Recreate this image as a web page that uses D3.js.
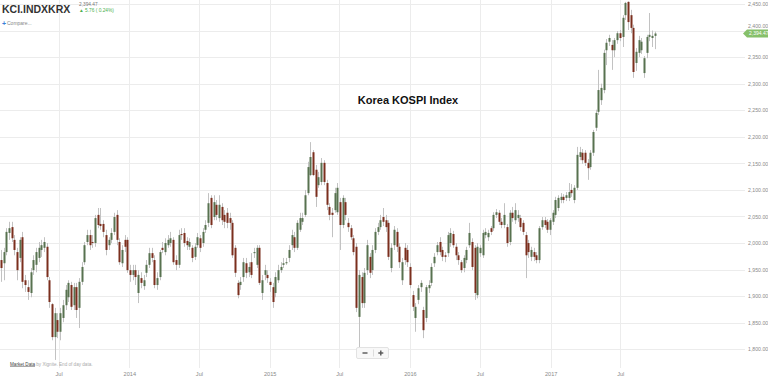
<!DOCTYPE html>
<html><head><meta charset="utf-8">
<script src="https://cdn.jsdelivr.net/npm/d3@7"></script>
<style>body{margin:0;background:#fff;overflow:hidden}svg{display:block;font-family:"Liberation Sans",Arial,sans-serif}</style>
</head><body><svg id="c" width="768" height="382"></svg>
<script>
// ---- data (weekly candles, KCI.INDXKRX) ----
const firstWeek = "2013-02-01";
const open = [1968,1962,1983,2019,2030,2006,1983,1972,2011,1930,1917,1906,1949,1959,1972,1987,1991,1993,1930,1885,1823,1855,1833,1859,1883,1898,1921,1883,1917,1878,1927,1964,2002,2015,2002,2000,2053,2036,2036,2015,1996,2006,2021,2053,2002,1962,2006,2006,1949,1940,1949,1906,1934,1919,1944,1959,1981,1968,1921,1936,1991,1983,1996,2000,2006,1968,1959,2017,2019,2004,1993,1991,1974,1996,2009,2000,2025,2038,2085,2049,2072,2047,2068,2053,2057,2047,2038,1991,1925,1921,1936,1962,1945,1964,1981,1959,1991,1906,1940,1940,1927,1917,1906,1930,1949,1959,1962,1972,1996,2011,1991,2025,2040,2053,2094,2128,2171,2138,2109,2115,2151,2113,2068,2057,2062,2058,2077,2034,2077,2038,2028,2009,1993,1861,1936,1887,1949,1974,1949,1987,2021,2030,2049,2043,2038,1953,1996,2021,1993,1930,1991,1987,1955,1902,1859,1893,1917,1874,1859,1915,1925,1962,1983,2002,1987,1977,1981,2000,2017,1993,1977,1964,1953,1968,1996,2002,1991,1902,1981,1977,2015,2011,2028,2028,2053,2057,2040,2034,2030,2002,2057,2043,2047,2047,2038,2015,2000,1974,1983,1977,1968,2030,2043,2040,2025,2040,2053,2066,2081,2087,2085,2085,2100,2081,2104,2162,2170,2170,2151,2143,2170,2217,2247,2269,2288,2363,2379,2373,2363,2382,2395,2388,2429,2454,2429,2405,2339,2358,2363,2320,2358,2388,2386,2390];
const high = [1987,1991,2028,2040,2040,2015,1991,2011,2021,1940,1930,1953,1977,1991,2002,2006,2011,2000,1936,1887,1878,1868,1878,1893,1921,1930,1927,1925,1925,1934,1964,2002,2025,2025,2015,2053,2066,2066,2043,2025,2011,2028,2057,2062,2009,1996,2015,2011,1959,1959,1959,1949,1945,1940,1968,1991,1991,1977,1945,1987,2002,2009,2015,2021,2011,1977,2025,2028,2028,2011,2009,1996,2000,2019,2015,2028,2043,2094,2090,2090,2081,2090,2075,2062,2066,2057,2043,1996,1930,1936,1972,1972,1964,1981,1991,1996,1996,1940,1959,1949,1934,1925,1945,1959,1964,1972,1972,1996,2025,2021,2043,2057,2057,2100,2153,2190,2175,2147,2134,2160,2156,2119,2075,2066,2104,2113,2085,2090,2085,2047,2034,2015,2000,1949,1945,1953,2006,1981,1996,2028,2038,2053,2066,2053,2043,2000,2032,2028,2000,1972,2000,1996,1962,1910,1887,1921,1930,1880,1921,1930,1962,1981,2002,2011,1993,1983,2021,2028,2023,2000,1983,1968,1977,1993,2038,2009,1996,2000,1996,2025,2028,2025,2032,2058,2064,2062,2047,2075,2036,2062,2068,2075,2062,2053,2043,2021,2006,1993,1991,1983,2032,2049,2049,2045,2047,2062,2087,2090,2094,2092,2096,2113,2111,2109,2181,2181,2177,2175,2158,2175,2213,2251,2326,2300,2364,2384,2392,2382,2386,2399,2401,2429,2454,2455,2439,2411,2367,2390,2386,2352,2392,2433,2400,2398];
const low = [1927,1930,1977,2006,2002,1977,1930,1964,1915,1908,1893,1898,1940,1945,1964,1974,1983,1930,1878,1817,1780,1821,1817,1851,1874,1889,1874,1874,1859,1840,1921,1959,1996,1987,1991,1993,2028,2025,2011,1977,1987,2000,2015,1996,1959,1955,1983,1944,1927,1930,1921,1887,1915,1912,1936,1953,1964,1915,1912,1930,1981,1977,1991,1993,1959,1949,1953,2006,1993,1987,1987,1964,1968,1991,1983,1993,2019,2030,2028,2043,2043,2040,2034,2028,2028,2025,1972,1936,1896,1912,1927,1934,1936,1934,1972,1953,1921,1893,1930,1925,1908,1878,1898,1925,1944,1953,1959,1964,1987,1983,1987,2021,2034,2049,2090,2126,2126,2068,2104,2109,2109,2062,2043,2011,2057,2053,1987,2028,2043,2021,2006,1977,1870,1804,1878,1878,1940,1934,1940,1981,2015,2025,2032,2021,1968,1945,1987,1983,1953,1921,1959,1955,1915,1872,1833,1885,1908,1821,1851,1906,1919,1955,1977,1977,1966,1964,1974,1993,1991,1968,1959,1944,1945,1962,1991,1949,1893,1896,1974,1972,2009,2004,2015,2023,2047,2034,2028,2028,1993,1996,2040,2036,2040,2023,2015,1934,1972,1966,1966,1962,1962,2025,2028,2019,2015,2034,2047,2060,2075,2075,2079,2079,2087,2075,2100,2156,2149,2145,2119,2138,2164,2211,2241,2260,2282,2335,2371,2326,2350,2375,2380,2369,2420,2401,2395,2311,2324,2350,2356,2311,2348,2380,2369,2365];
const close = [1953,1983,2021,2028,2009,1987,1949,2006,1927,1921,1908,1945,1968,1983,1991,1996,2002,1936,1889,1823,1868,1833,1868,1883,1912,1925,1880,1917,1874,1927,1955,1996,2015,1996,2000,2047,2034,2032,2021,1987,2006,2019,2049,2006,1964,1987,1993,1949,1940,1949,1936,1940,1925,1930,1959,1981,1972,1921,1934,1983,1987,2000,2006,2009,1964,1959,2015,2015,2000,1996,2002,1972,1993,2011,1991,2021,2034,2075,2034,2077,2053,2072,2043,2040,2038,2038,1977,1944,1902,1927,1964,1944,1955,1940,1983,1991,1925,1930,1949,1934,1921,1889,1936,1949,1955,1962,1964,1987,2015,1991,2038,2047,2047,2090,2143,2162,2128,2087,2124,2151,2115,2072,2053,2053,2094,2104,2034,2085,2053,2030,2011,1983,1878,1940,1887,1944,1996,1944,1987,2021,2030,2043,2040,2030,1974,1991,2025,1993,1964,1964,1968,1964,1921,1880,1880,1915,1925,1836,1917,1921,1955,1974,1996,1983,1974,1974,2015,2019,1996,1977,1968,1949,1972,1987,2019,1955,1906,1993,1991,2019,2021,2019,2021,2053,2058,2040,2034,2053,2000,2057,2047,2062,2053,2030,2021,1977,1983,1987,1974,1968,2028,2043,2034,2025,2043,2057,2081,2085,2087,2081,2090,2096,2094,2104,2166,2171,2156,2151,2141,2170,2209,2245,2288,2292,2358,2377,2386,2363,2382,2395,2386,2424,2452,2416,2405,2322,2360,2382,2379,2348,2388,2392,2390,2394.47];
const yTicks = [1800,1850,1900,1950,2000,2050,2100,2150,2200,2250,2300,2350,2400,2450];
const xTickDates = ["2013-07-01","2014-01-01","2014-07-01","2015-01-01","2015-07-01","2016-01-01","2016-07-01","2017-01-01","2017-07-01"];
const xTickLabels = ["Jul","2014","Jul","2015","Jul","2016","Jul","2017","Jul"];
const lastPrice = 2394.47;
const change = "5.76 ( 0.24%)";
const symbol = "KCI.INDXKRX";
const title = "Korea KOSPI Index";

// ---- drawing ----
const parse = d3.timeParse("%Y-%m-%d");
const start = parse(firstWeek);
const candles = close.map((c,i)=>({date:d3.timeDay.offset(start,7*i),o:open[i],h:high[i],l:low[i],c:c}));

const svg = d3.select("#c");
const x = d3.scaleTime().domain([parse("2013-01-01"), parse("2018-01-01")]).range([-11, 691]);
const y = d3.scaleLinear().domain([1800,2450]).range([349.3, 4]);

// horizontal grid
const gGrid = svg.append("g").attr("transform","translate(745,0)")
  .call(d3.axisLeft(y).tickValues(yTicks).tickSize(745).tickFormat(""));
gGrid.select(".domain").remove();
gGrid.selectAll("line").attr("stroke","#ececec").attr("shape-rendering","crispEdges");

// vertical grid + x labels
const xDates = xTickDates.map(parse);
const gx = svg.append("g").attr("transform","translate(0,368)")
  .call(d3.axisBottom(x).tickValues(xDates).tickSize(-368).tickPadding(4)
    .tickFormat((d,i)=>xTickLabels[i]));
gx.select(".domain").remove();
gx.selectAll("line").attr("stroke","#ececec").attr("shape-rendering","crispEdges");
gx.selectAll("text").attr("fill","#8a8a8a").attr("font-size","5.6px").attr("font-family","Liberation Sans, Arial, sans-serif");

// y labels
const gy = svg.append("g").attr("transform","translate(748,0)")
  .call(d3.axisRight(y).tickValues(yTicks).tickSize(0).tickPadding(0).tickFormat(d3.format(",.2f")));
gy.select(".domain").remove();
gy.selectAll("text").attr("fill","#8a8a8a").attr("font-size","5.2px").attr("font-family","Liberation Sans, Arial, sans-serif");
// the 2,400 label sits just above the current-price tag
gy.selectAll(".tick").filter(d=>d===2400).select("text").attr("dy","-0.55em");

// candles
const cg = svg.append("g");
cg.selectAll("line.w").data(candles).join("line")
  .attr("x1",d=>Math.round(x(d.date))+0.5).attr("x2",d=>Math.round(x(d.date))+0.5)
  .attr("y1",d=>y(d.h)).attr("y2",d=>y(d.l))
  .attr("stroke","#c2c2c2").attr("stroke-width",1);
cg.selectAll("rect.b").data(candles).join("rect")
  .attr("x",d=>Math.round(x(d.date))-0.5).attr("width",2)
  .attr("y",d=>y(Math.max(d.o,d.c)))
  .attr("height",d=>Math.max(1,Math.abs(y(d.o)-y(d.c))))
  .attr("fill",d=>d.c>=d.o?"#587250":"#7b2f1e");

// title
svg.append("text").attr("x",408).attr("y",104).attr("text-anchor","middle")
  .attr("font-size","11px").attr("font-weight","bold").attr("fill","#111").text(title);

// header
svg.append("text").attr("x",2).attr("y",13).attr("font-size","10.5px").attr("font-weight","bold")
  .attr("fill","#333").text(symbol);
svg.append("text").attr("x",79).attr("y",5.5).attr("font-size","4.8px").attr("fill","#777")
  .text(d3.format(",.2f")(lastPrice));
svg.append("text").attr("x",79).attr("y",11.5).attr("font-size","4.8px").attr("fill","#4caf50")
  .text("\u25B2 " + change);
svg.append("text").attr("x",2).attr("y",25.5).attr("font-size","7px").attr("font-weight","bold").attr("fill","#3b7dd8").text("+");
svg.append("text").attr("x",7).attr("y",25.3).attr("font-size","5px").attr("fill","#888").text("Compare...");

// current price tag
const ty = y(lastPrice);
svg.append("path").attr("d",`M743,${ty} L747,${ty-4} L768,${ty-4} L768,${ty+4} L747,${ty+4} Z`).attr("fill","#86c06a");
svg.append("text").attr("x",749).attr("y",ty+1.8).attr("font-size","5px").attr("fill","#fff").text(d3.format(",.2f")(lastPrice));

// footer
const ft = svg.append("text").attr("x",10).attr("y",365.5).attr("font-size","4.6px").attr("fill","#aaa");
ft.append("tspan").attr("fill","#444").attr("text-decoration","underline").text("Market Data");
ft.append("tspan").text(" by Xignite. End of day data.");

// zoom buttons
const zb = svg.append("g");
zb.append("rect").attr("x",356.5).attr("y",347.5).attr("width",32).attr("height",11).attr("rx",1.5)
  .attr("fill","#f8f8f8").attr("stroke","#e2e2e2");
zb.append("line").attr("x1",373.5).attr("x2",373.5).attr("y1",349.5).attr("y2",356.5).attr("stroke","#dcdcdc");
zb.append("line").attr("x1",362.5).attr("x2",367.5).attr("y1",353).attr("y2",353).attr("stroke","#555").attr("stroke-width",1.4);
zb.append("line").attr("x1",378.3).attr("x2",383.3).attr("y1",353).attr("y2",353).attr("stroke","#555").attr("stroke-width",1.4);
zb.append("line").attr("x1",380.8).attr("x2",380.8).attr("y1",350.5).attr("y2",355.5).attr("stroke","#555").attr("stroke-width",1.4);
</script></body></html>
